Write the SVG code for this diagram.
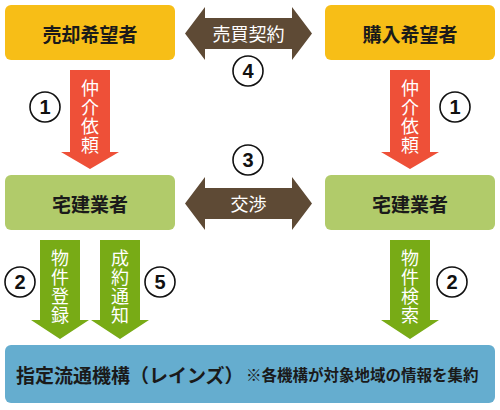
<svg xmlns="http://www.w3.org/2000/svg" width="500" height="410" viewBox="0 0 500 410">
<style>
.t{font-family:"Noto Sans CJK JP","Noto Sans CJK SC",sans-serif;font-weight:bold;}
.box{font-size:19px;fill:#1a1a1a;text-anchor:middle;dominant-baseline:central;}
.w{fill:#fff;font-size:18px;text-anchor:middle;dominant-baseline:central;font-weight:normal;}
.v{fill:#fff;font-size:18px;text-anchor:middle;font-weight:normal;writing-mode:vertical-rl;letter-spacing:1px;}
.c{fill:#fff;stroke:#111;stroke-width:1.6;}
.n{font-family:"Liberation Sans",Arial,sans-serif;font-weight:bold;font-size:20px;fill:#111;text-anchor:middle;dominant-baseline:central;}
.yel{fill:#f7be17;}
.lg{fill:#b1cb6a;}
.br{fill:#5e4a35;}
.or{fill:#ee5038;}
.gr{fill:#78ab16;}
</style>
<g id="seller"><rect class="yel" x="5" y="5" width="170" height="55" rx="6"/><text class="t box" x="90" y="33">売却希望者</text></g>
<g id="buyer"><rect class="yel" x="325" y="5" width="170" height="55" rx="6"/><text class="t box" x="410" y="33">購入希望者</text></g>
<g id="agentL"><rect class="lg" x="5" y="175" width="170" height="55" rx="6"/><text class="t box" x="90" y="203">宅建業者</text></g>
<g id="agentR"><rect class="lg" x="325" y="175" width="170" height="55" rx="6"/><text class="t box" x="410" y="203">宅建業者</text></g>
<g id="reins"><rect fill="#65adcf" x="5" y="345" width="490" height="58" rx="6"/>
<text class="t" x="16" y="374" font-size="19" fill="#1a1a1a" dominant-baseline="central">指定流通機構（レインズ）</text>
<text class="t" x="246" y="374" font-size="15.5" fill="#1a1a1a" dominant-baseline="central">※各機構が対象地域の情報を集約</text></g>
<g id="connectors">
<polygon class="br" points="185,33.5 205,7 205,18 292,18 292,7 312,33.5 292,60 292,49 205,49 205,60"/>
<text class="t w" x="248.5" y="33">売買契約</text>
<polygon class="br" points="185,203.5 205,177 205,188 292,188 292,177 312,203.5 292,230 292,219 205,219 205,230"/>
<text class="t w" x="248.5" y="203">交渉</text>
<polygon class="or" points="70,70 110,70 110,152 119,152 90,169 61,152 70,152"/>
<text class="t v" x="90" y="117">仲介依頼</text>
<polygon class="or" points="390,70 430,70 430,152 439,152 410,169 381,152 390,152"/>
<text class="t v" x="410" y="117">仲介依頼</text>
<polygon class="gr" points="40,240 80,240 80,320 89,320 60,339 31,320 40,320"/>
<text class="t v" x="60" y="287">物件登録</text>
<polygon class="gr" points="100,240 140,240 140,320 149,320 120,339 91,320 100,320"/>
<text class="t v" x="120" y="287">成約通知</text>
<polygon class="gr" points="390,240 430,240 430,320 439,320 410,339 381,320 390,320"/>
<text class="t v" x="410" y="287">物件検索</text>
<circle class="c" cx="45" cy="107" r="15"/><text class="n" x="45" y="107">1</text>
<circle class="c" cx="455" cy="107" r="15"/><text class="n" x="455" y="107">1</text>
<circle class="c" cx="248" cy="71" r="15"/><text class="n" x="248" y="71">4</text>
<circle class="c" cx="248" cy="160" r="15"/><text class="n" x="248" y="160">3</text>
<circle class="c" cx="20" cy="282" r="15"/><text class="n" x="20" y="282">2</text>
<circle class="c" cx="160" cy="282" r="15"/><text class="n" x="160" y="282">5</text>
<circle class="c" cx="452" cy="282" r="15"/><text class="n" x="452" y="282">2</text>
</g>
</svg>
